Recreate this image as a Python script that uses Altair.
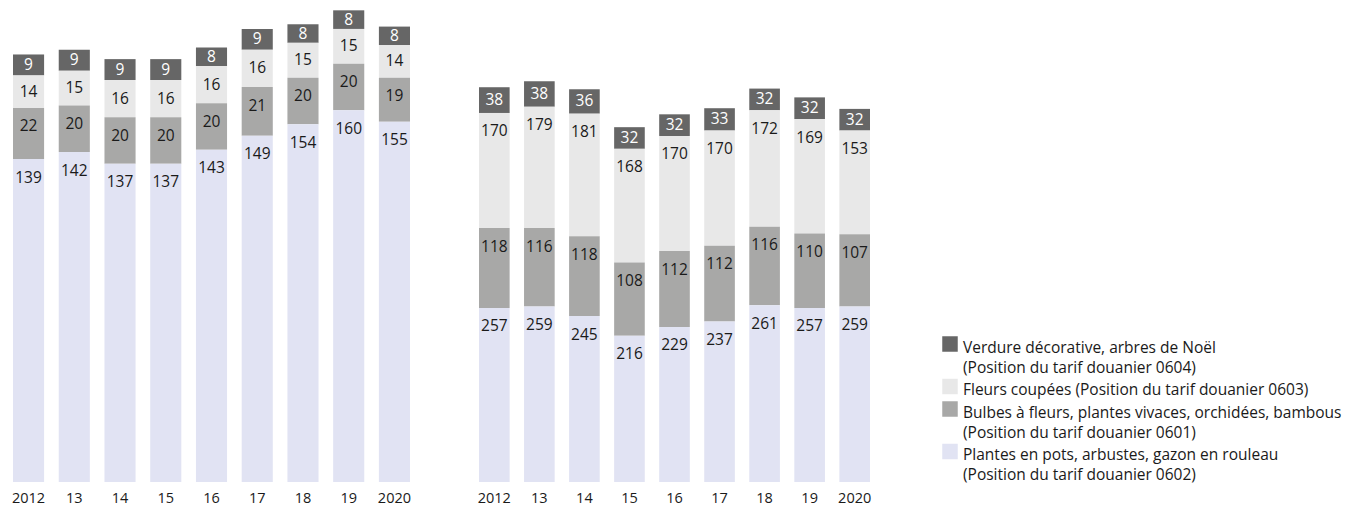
import altair as alt
import pandas as pd

years = ['2012', '13', '14', '15', '16', '17', '18', '19', '2020']

cats = [
    "Verdure décorative, arbres de Noël|(Position du tarif douanier 0604)",
    "Fleurs coupées (Position du tarif douanier 0603)",
    "Bulbes à fleurs, plantes vivaces, orchidées, bambous|(Position du tarif douanier 0601)",
    "Plantes en pots, arbustes, gazon en rouleau|(Position du tarif douanier 0602)",
]
colors = ['#666666', '#e8e8e8', '#a8a8a7', '#e1e3f3']
stack_order = [3, 2, 1, 0]

# Left panel (quantities)
verdure_l = [9, 9, 9, 9, 8, 9, 8, 8, 8]
fleurs_l = [14, 15, 16, 16, 16, 16, 15, 15, 14]
bulbes_l = [22, 20, 20, 20, 20, 21, 20, 20, 19]
plantes_l = [139, 142, 137, 137, 143, 149, 154, 160, 155]

# Right panel (values)
verdure_r = [38, 38, 36, 32, 32, 33, 32, 32, 32]
fleurs_r = [170, 179, 181, 168, 170, 170, 172, 169, 153]
bulbes_r = [118, 116, 118, 108, 112, 112, 116, 110, 107]
plantes_r = [257, 259, 245, 216, 229, 237, 261, 257, 259]

H = 474


def long_df(series):
    rows = []
    for cat, ordv, vals in zip(cats, stack_order, series):
        for y, v in zip(years, vals):
            rows.append({'year': y, 'cat': cat, 'ord': ordv, 'value': v})
    return pd.DataFrame(rows)


def panel(df, dom, w, show_legend):
    k = dom / H
    base = alt.Chart(df).transform_stack(
        stack='value', groupby=['year'],
        sort=[alt.SortField(field='ord', order='ascending')],
        as_=['y0', 'y1'],
    ).transform_calculate(
        ylab=f"datum.y1 - min((datum.y1 - datum.y0) / 2, {18.5 * k})"
    )
    yscale = alt.Scale(domain=[0, dom], nice=False, zero=True)
    x = alt.X('year:N', sort=years,
              scale=alt.Scale(paddingInner=0.32, paddingOuter=0, round=False),
              axis=alt.Axis(title=None, labelAngle=0, ticks=False, domain=False,
                            labelPadding=12.5, labelFontSize=14.5,
                            labelColor='#1a1a1a', labelFont='Open Sans'))
    if show_legend:
        legend = alt.Legend(
            title=None, orient='none', legendX=929, legendY=328,
            symbolType='square', symbolSize=240, symbolStrokeWidth=0,
            labelFont='Open Sans', labelFontSize=15.5, labelColor='#1a1a1a',
            labelOffset=5, labelBaseline='top', rowPadding=2.5, padding=0,
            labelLimit=0, labelExpr="split(datum.label, '|')",
        )
    else:
        legend = None
    bars = base.mark_bar().encode(
        x=x,
        y=alt.Y('y0:Q', scale=yscale, axis=None),
        y2='y1:Q',
        color=alt.Color('cat:N', scale=alt.Scale(domain=cats, range=colors),
                        legend=legend),
    )
    text = base.mark_text(font='Open Sans', fontSize=15.5, baseline='middle').encode(
        x=x,
        y=alt.Y('ylab:Q', scale=yscale, axis=None),
        text='value:Q',
        color=alt.condition('datum.ord == 3', alt.value('#ffffff'), alt.value('#1a1a1a')),
    )
    return alt.layer(bars, text).properties(width=w, height=H)


left = panel(long_df([verdure_l, fleurs_l, bulbes_l, plantes_l]), 204, 397, True)
right = panel(long_df([verdure_r, fleurs_r, bulbes_r, plantes_r]), 700, 391, False)

chart = alt.hconcat(left, right, spacing=69, bounds='flush').properties(
    padding={'left': 3, 'top': 0, 'right': 0, 'bottom': 0}
).configure(
    style={'guide-label': {'lineHeight': 20, 'dy': -3.5}}
).configure_view(stroke=None)

chart.save("out.html", embed_options={"renderer": "svg", "actions": False})
